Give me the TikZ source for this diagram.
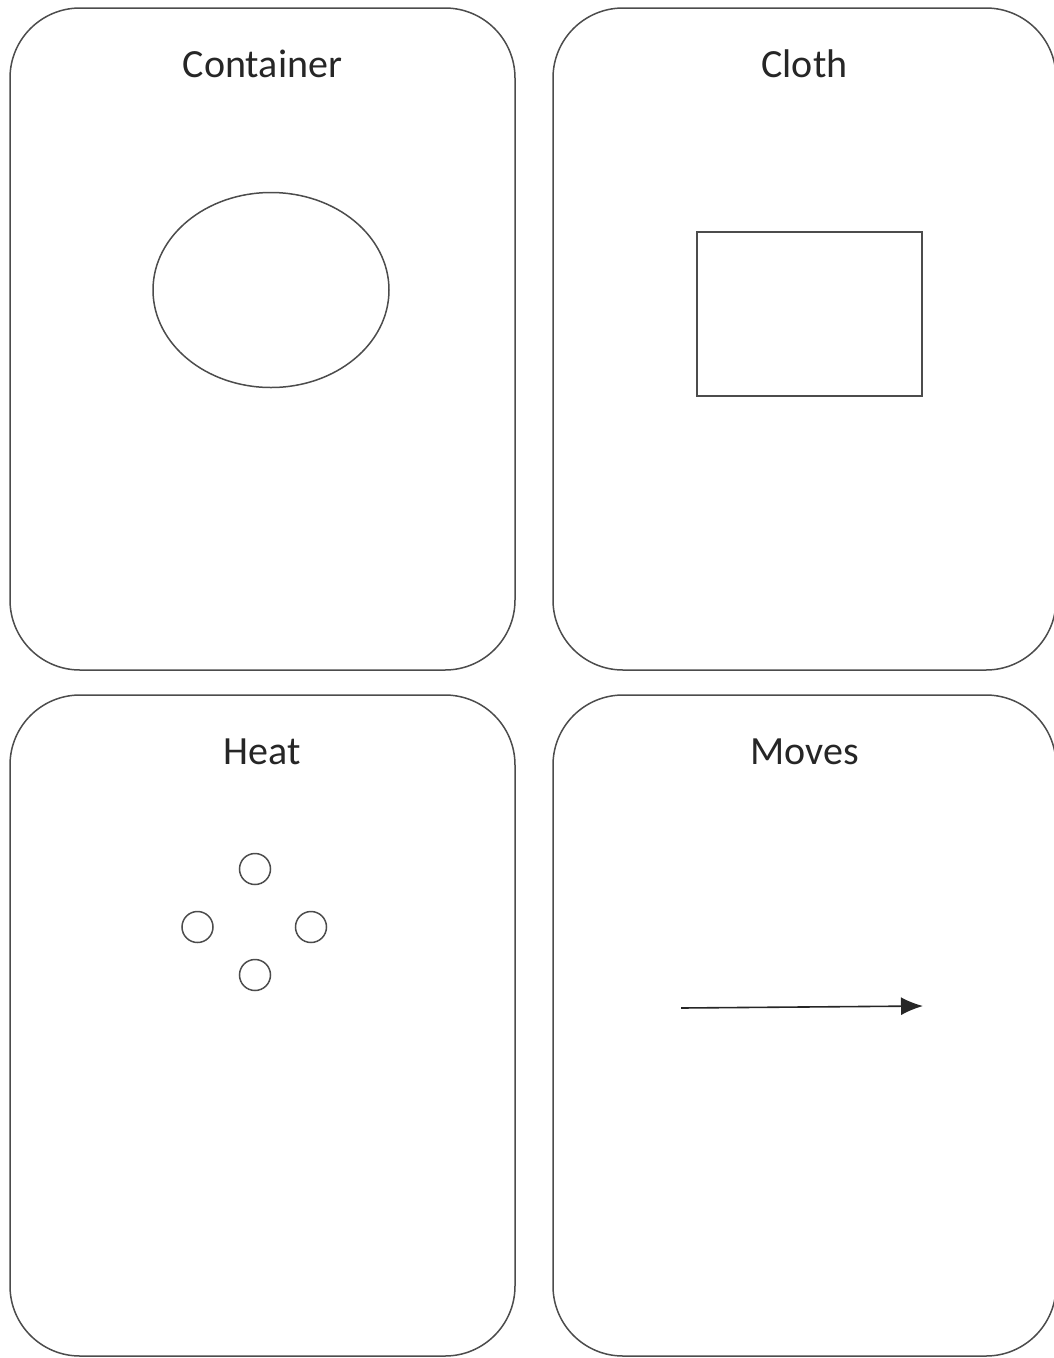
\documentclass[tikz,border=0pt]{standalone}
\usepackage{fontspec}
\setmainfont{Carlito}
\usetikzlibrary{arrows.meta,positioning,shapes.geometric}

\begin{document}
\begin{tikzpicture}[
  x=1pt, y=-1pt,
  card/.style={draw=black!70, line width=1.5pt, rounded corners=70pt, minimum width=505pt, minimum height=662pt, inner sep=0pt},
  title/.style={font=\fontsize{40}{46}\selectfont, text=black!85},
  outline/.style={draw=black!70, line width=1.5pt, inner sep=0pt},
  dot/.style={outline, circle, minimum size=31pt},
  arrow/.style={-{Latex[length=22pt,width=18pt]}, line width=1.6pt, draw=black!85}
]
\useasboundingbox (0,0) rectangle (1053,1358);
% cards
\node[card] (container) at (262.5,339) {};
\node[card, minimum width=503pt] (cloth) at (804.5,339) {};
\node[card, minimum height=661pt] (heat) at (262.5,1025.5) {};
\node[card, minimum width=503pt, minimum height=661pt] (moves) at (804.5,1025.5) {};
\node[title] (t1) at ([yshift=-57pt]container.north) {Container};
\node[title] (t2) at ([yshift=-57pt]cloth.north) {Cloth};
\node[title] (t3) at ([yshift=-58pt]heat.north) {Heat};
\node[title] (t4) at ([yshift=-58pt]moves.north) {Moves};
% symbols
\node[outline, ellipse, minimum width=236pt, minimum height=195pt] (oval) at (271,290) {};
\node[outline, rectangle, minimum width=225pt, minimum height=164pt] (cloth rect) at (809.5,314) {};
\node[dot] (d1) at (255,869) {};
\node[dot] (d2) at (197.5,927) {};
\node[dot] (d3) at (311,927) {};
\node[dot] (d4) at (255,975) {};
\coordinate (m0) at (681,1008);
\coordinate (m1) at (923,1006);
\draw[arrow] (m0) -- (m1);
\end{tikzpicture}
\end{document}
